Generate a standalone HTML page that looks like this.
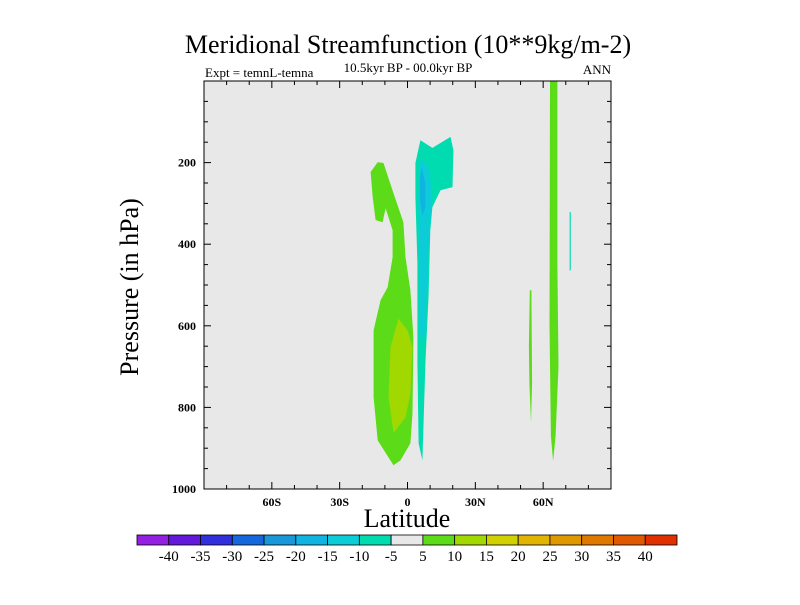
<!DOCTYPE html>
<html><head><meta charset="utf-8"><style>
body{margin:0;background:#fff;}
svg text{font-family:"Liberation Serif",serif;}
</style></head><body>
<svg id="chart" width="800" height="600" xmlns="http://www.w3.org/2000/svg">
<text x="408" y="53" font-size="26" text-anchor="middle">Meridional Streamfunction (10**9kg/m-2)</text>
<text x="205" y="77" font-size="13">Expt = temnL-temna</text>
<text x="408" y="72" font-size="13" text-anchor="middle">10.5kyr BP - 00.0kyr BP</text>
<text x="611" y="74" font-size="13" text-anchor="end">ANN</text>
<rect x="204" y="81" width="407" height="408" fill="#e8e8e8"/>
<g id="contours"></g>
<rect x="204" y="81" width="407" height="408" fill="none" stroke="#000" stroke-width="1"/>
<g id="axes"></g>
<text transform="translate(138,287) rotate(-90)" font-size="26" text-anchor="middle">Pressure (in hPa)</text>
<text x="407" y="527" font-size="26" text-anchor="middle">Latitude</text>
<g id="colorbar"></g>
</svg>
<script>
const ns="http://www.w3.org/2000/svg";
const xTicks=[-60,-30,0,30,60];
const xTickLabels=["60S","30S","0","30N","60N"];
const yTicks=[200,400,600,800,1000];
const levels=[-40,-35,-30,-25,-20,-15,-10,-5,5,10,15,20,25,30,35,40];
const levelColors=["#9420e4","#6418dc","#3030dc","#1468dc","#1898d8","#10b4e0","#0cccd8","#00dcb0","#e8e8e8","#5cdc18","#a0d800","#d2d000","#e0b400","#e09800","#e07800","#e05800","#e03000"];
const regionGreenLeft=[[-16.3,223],[-13.2,199],[-10.6,201],[-6.2,275],[-1.8,346],[-0.9,432],[1.3,513],[2.6,628],[2.2,815],[1.3,888],[-3.1,930],[-6.2,942],[-13.2,881],[-15,775],[-15,611],[-11.9,537],[-8.8,506],[-6.6,432],[-6.6,366],[-9.7,312],[-11,346],[-14.1,341],[-15.4,285]];
const regionYellowGreen=[[-4,582],[0,611],[2.2,653],[1.3,766],[-0.9,825],[-6.2,862],[-8.4,774],[-7.5,652]];
const regionCyan=[[5.7,145],[11,164],[19,137],[20.3,169],[19.9,260],[14.6,268],[11,309],[10.1,366],[9.3,530],[7.9,692],[6.6,930],[4.9,888],[4.4,692],[4.4,447],[3.5,285],[3.5,201]];
const regionCyanDark=[[5.7,191],[9.3,211],[11,285],[10.1,341],[9.3,407],[7.5,628],[5.7,628],[4.9,407],[4.9,285]];
const regionBlue=[[6.2,211],[7.9,250],[7.9,309],[6.6,330],[5.5,290],[5.5,240]];
const regionGreenBar=[[63,0],[66.3,0],[66.3,450],[66.8,700],[65.5,870],[64.4,932],[63.4,870],[62.8,600]];
const regionGreenSmall=[[54.1,513],[54.8,513],[55.1,740],[54.6,837],[53.9,740],[53.7,650]];
const regionCyanLine=[[71.7,321],[72.2,321],[72.2,464],[71.7,464]];
const regions=[[9,regionGreenLeft,"contour-positive-5-south"],[10,regionYellowGreen,"contour-positive-10"],[7,regionCyan,"contour-negative-5"],[6,regionCyanDark,"contour-negative-10"],[5,regionBlue,"contour-negative-15"],[9,regionGreenBar,"contour-positive-5-north"],[9,regionGreenSmall,"contour-positive-5-small"],[7,regionCyanLine,"contour-negative-5-line"]];
const X=lat=>204+(lat+90)*407/180;
const Y=p=>81+p*408/1000;
function mk(tag,attrs,parent){const e=document.createElementNS(ns,tag);for(const k in attrs)e.setAttribute(k,attrs[k]);parent.appendChild(e);return e;}
const cg=document.getElementById('contours');
regions.forEach(r=>{
  const p=mk('polygon',{points:r[1].map(q=>X(q[0]).toFixed(1)+','+Y(q[1]).toFixed(1)).join(' '),fill:levelColors[r[0]]},cg);
  
  
});
const ax=document.getElementById('axes');
for(let lat=-80;lat<=80;lat+=10){
  const major=lat%30===0;const L=major?7:4;
  mk('line',{x1:X(lat),x2:X(lat),y1:489,y2:489-L,stroke:'#000'},ax);
  mk('line',{x1:X(lat),x2:X(lat),y1:81,y2:81+L,stroke:'#000'},ax);
}
for(let p=50;p<1000;p+=50){
  const major=p%200===0;const L=major?7:4;
  mk('line',{x1:204,x2:204+L,y1:Y(p),y2:Y(p),stroke:'#000'},ax);
  mk('line',{x1:611,x2:611-L,y1:Y(p),y2:Y(p),stroke:'#000'},ax);
}
xTicks.forEach((v,i)=>{
  const t=mk('text',{x:X(v),y:506,'font-size':12,'font-weight':'bold','text-anchor':'middle'},ax);t.textContent=xTickLabels[i];
  
  
});
yTicks.forEach(v=>{
  const t=mk('text',{x:196,y:Y(v)+4,'font-size':12,'font-weight':'bold','text-anchor':'end'},ax);t.textContent=v;
  
  
});
const cb=document.getElementById('colorbar');
const bw=540/levelColors.length;
levelColors.forEach((c,i)=>{
  const r=mk('rect',{x:137+i*bw,y:535,width:bw,height:10,fill:c,stroke:'#000','stroke-width':0.8},cb);
  
  
});
levels.forEach((v,i)=>{
  const t=mk('text',{x:137+(i+1)*bw,y:561,'font-size':15,'text-anchor':'middle'},cb);t.textContent=v;
  
  
});
</script>
</body></html>
